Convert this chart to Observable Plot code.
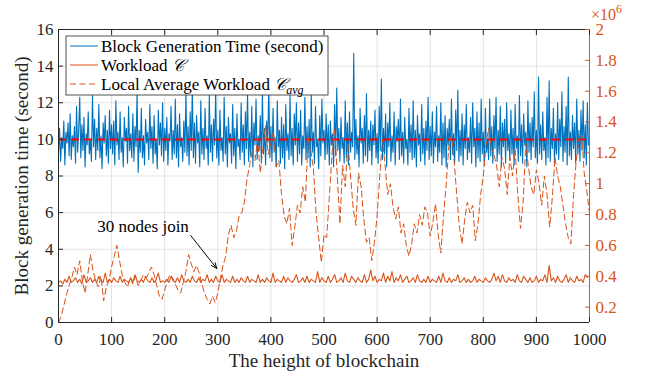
<!DOCTYPE html>
<html>
<head>
<meta charset="utf-8">
<script src="https://cdn.jsdelivr.net/npm/d3@7"></script>
<script src="https://cdn.jsdelivr.net/npm/@observablehq/plot@0.6"></script>
<style>
  html, body { margin: 0; padding: 0; background: #fff; }
</style>
</head>
<body>
<div id="chart"></div>
<script>
// ---- data ----
// block generation time (second), every 2nd block height
const blockTime = [
 9.2,10.6,8.8,10.1,9.5,11.0,8.6,10.4,9.8,10.9,9.1,11.4,8.9,10.2,9.6,10.7,8.7,11.8,9.3,10.5,12.3,9.0,10.8,9.4,11.2,
 8.5,10.3,9.7,11.5,9.2,10.0,8.8,12.4,9.6,11.1,8.9,10.6,9.4,11.9,9.0,10.2,8.4,10.9,9.8,11.3,9.1,10.5,8.7,11.6,9.5,
 10.8,9.2,11.0,8.6,12.1,9.7,10.4,8.9,11.5,9.3,10.1,8.5,11.2,9.9,10.6,8.7,11.8,9.4,10.3,9.0,11.4,8.8,10.7,9.6,12.6,
 8.2,10.5,9.3,11.7,9.0,10.2,8.6,11.1,9.8,10.4,8.9,11.9,9.5,10.7,8.7,11.3,9.2,10.0,8.4,11.6,9.7,10.9,9.1,12.0,8.8,
 10.6,9.4,11.2,8.6,10.3,9.9,11.8,8.9,10.5,9.2,12.2,9.0,10.8,8.5,11.4,9.6,10.1,8.8,11.0,9.3,12.5,9.1,10.7,8.6,11.5,
 9.4,12.8,9.0,10.9,8.7,11.3,9.8,10.4,8.5,12.1,9.2,10.6,8.9,11.7,9.5,10.2,8.6,12.4,9.3,10.8,8.8,11.1,9.7,12.7,9.0,
 10.5,8.6,11.6,9.4,10.1,8.8,12.3,9.2,10.7,8.5,11.2,9.8,10.3,8.7,11.9,9.1,10.6,8.4,11.4,9.6,10.0,8.9,12.0,9.3,10.8,
 8.6,11.5,9.5,12.6,8.8,10.4,9.1,11.8,8.5,10.9,9.7,12.2,8.9,10.2,9.4,11.3,8.7,12.5,9.2,10.6,8.6,11.0,9.8,12.9,9.0,
 10.7,8.8,11.7,9.3,10.1,8.5,12.1,9.6,10.5,8.7,11.2,9.0,10.8,8.4,11.9,9.4,10.3,8.9,12.4,9.1,10.6,8.6,11.4,9.7,12.0,
 8.8,10.9,9.2,11.6,8.6,10.2,9.5,12.3,8.9,10.7,9.0,11.1,8.5,12.5,9.3,10.4,8.7,11.8,9.6,10.0,8.4,11.3,9.1,12.2,9.8,
 10.5,8.9,11.4,9.2,10.8,8.6,11.0,9.7,10.3,8.5,11.9,9.1,12.8,9.4,10.6,8.8,11.2,9.5,10.1,8.7,12.1,9.0,10.9,8.6,11.5,
 9.3,10.4,9.6,14.7,8.9,11.1,9.2,10.2,8.5,11.7,9.8,10.6,8.7,11.3,9.1,12.5,8.8,10.5,9.4,11.0,8.6,10.8,9.7,11.6,9.0,
 10.3,8.7,11.8,9.4,13.3,8.9,10.6,9.2,11.4,8.5,10.9,9.6,12.0,8.8,10.2,9.3,11.5,8.6,10.7,9.9,11.1,8.9,12.2,9.1,10.4,
 8.7,11.2,9.5,10.0,8.6,11.7,9.3,10.8,8.9,12.1,9.0,10.5,8.5,11.3,9.7,10.3,8.8,11.9,9.2,10.6,8.6,11.0,9.4,12.3,8.9,
 10.7,9.1,11.5,8.7,10.4,9.6,11.8,8.8,10.2,9.3,12.0,8.6,10.9,9.0,11.3,8.5,10.6,9.7,11.1,8.9,12.2,9.2,10.3,8.7,11.6,
 9.4,12.7,8.8,10.5,9.1,11.4,8.6,10.8,9.5,11.9,8.9,10.1,9.3,11.2,8.7,12.0,9.6,10.6,8.5,11.5,9.0,10.9,8.8,12.2,9.2,
 10.4,8.6,11.7,9.3,10.0,8.9,12.2,9.1,10.7,8.7,11.3,9.5,12.3,8.8,10.5,9.2,11.8,8.5,10.9,9.6,11.1,8.7,12.0,9.4,10.3,
 8.9,11.6,9.2,10.6,8.6,11.9,9.5,10.2,8.8,12.4,9.1,10.8,8.7,11.4,9.7,10.4,8.5,12.1,9.3,10.9,8.9,11.2,9.6,12.6,9.0,
 10.5,8.7,13.4,9.2,10.8,8.9,11.5,9.4,10.1,8.6,12.3,9.0,13.2,8.8,10.6,9.5,11.7,8.7,10.3,9.2,12.0,8.9,11.1,9.6,12.6,
 8.8,10.7,9.3,11.8,8.6,13.4,9.1,10.4,8.9,11.3,9.5,10.9,8.7,12.2,9.2,10.5,8.8,11.6,9.4,12.1,9.0,10.8,8.6,12.0,9.7
];
// workload C (x10^6), every 4th block height
const workload = [
 0.36,0.37,0.35,0.38,0.36,0.40,0.36,0.37,0.39,0.36,0.38,0.35,0.41,0.36,0.37,0.39,0.36,0.38,0.36,0.40,0.37,0.36,0.42,0.36,0.38,
 0.36,0.39,0.37,0.36,0.40,0.36,0.38,0.37,0.36,0.39,0.36,0.41,0.37,0.36,0.38,0.36,0.40,0.37,0.36,0.39,0.36,0.38,0.42,0.36,0.37,
 0.36,0.38,0.36,0.40,0.37,0.36,0.39,0.36,0.41,0.37,0.36,0.38,0.36,0.40,0.37,0.36,0.39,0.36,0.38,0.37,0.41,0.36,0.38,0.36,0.40,
 0.37,0.36,0.41,0.36,0.38,0.37,0.36,0.40,0.36,0.38,0.36,0.39,0.37,0.36,0.40,0.36,0.38,0.37,0.36,0.41,0.36,0.38,0.36,0.39,0.37,
 0.36,0.42,0.36,0.38,0.37,0.36,0.40,0.36,0.39,0.37,0.36,0.38,0.41,0.36,0.37,0.39,0.36,0.40,0.36,0.38,0.37,0.36,0.43,0.36,0.39,
 0.37,0.36,0.40,0.36,0.38,0.41,0.36,0.37,0.39,0.36,0.42,0.37,0.36,0.40,0.38,0.36,0.39,0.37,0.36,0.41,0.36,0.38,0.44,0.37,0.40,
 0.36,0.38,0.37,0.42,0.36,0.40,0.37,0.43,0.36,0.39,0.37,0.41,0.36,0.38,0.40,0.36,0.37,0.39,0.36,0.41,0.37,0.36,0.38,0.36,0.40,
 0.36,0.38,0.37,0.36,0.40,0.36,0.42,0.37,0.36,0.39,0.36,0.38,0.37,0.41,0.36,0.37,0.39,0.36,0.38,0.36,0.37,0.40,0.36,0.38,0.37,
 0.36,0.39,0.37,0.36,0.38,0.42,0.37,0.40,0.36,0.41,0.37,0.36,0.39,0.37,0.38,0.36,0.41,0.37,0.36,0.40,0.38,0.36,0.39,0.36,0.37,
 0.40,0.36,0.38,0.37,0.41,0.36,0.47,0.37,0.39,0.36,0.40,0.37,0.36,0.38,0.41,0.36,0.39,0.37,0.36,0.40,0.37,0.38,0.36,0.41,0.39
];
// local average workload C_avg (x10^6), every 5th block height
const avgWorkload = [
 0.10,0.14,0.21,0.28,0.34,0.39,0.46,0.41,0.50,0.37,0.29,0.41,0.54,0.44,0.37,0.33,0.40,0.24,0.33,0.37,
 0.46,0.53,0.60,0.50,0.41,0.36,0.33,0.39,0.35,0.40,0.34,0.37,0.41,0.39,0.42,0.46,0.41,0.34,0.27,0.25,
 0.31,0.37,0.41,0.39,0.35,0.31,0.29,0.36,0.43,0.54,0.48,0.43,0.47,0.42,0.35,0.29,0.25,0.22,0.27,0.23,
 0.29,0.39,0.47,0.53,0.67,0.73,0.65,0.69,0.79,0.81,0.88,1.03,1.12,1.22,1.15,1.29,1.07,1.23,1.38,1.19,
 1.26,1.34,1.11,1.15,0.93,0.79,0.74,0.84,0.60,0.72,0.86,0.81,0.98,0.88,1.30,1.22,1.10,0.81,0.65,0.49,
 0.67,0.65,0.91,1.19,1.36,1.05,0.74,1.12,0.98,1.26,1.05,0.84,0.73,1.07,0.98,0.77,0.62,0.65,0.50,0.62,
 0.79,1.05,1.29,1.12,0.93,1.00,0.85,0.77,0.85,0.68,0.74,0.60,0.53,0.61,0.74,0.68,0.80,0.73,0.85,0.81,
 0.66,0.75,0.87,0.67,0.55,0.79,0.99,1.24,1.31,1.15,0.93,0.72,0.61,0.77,0.88,0.81,0.86,0.63,0.74,0.93,
 1.05,1.25,1.36,1.23,1.19,1.12,0.98,1.17,1.10,0.93,1.17,1.05,1.22,0.93,0.71,0.88,1.26,1.11,0.98,0.93,
 1.09,1.00,0.86,1.05,0.93,0.72,0.91,1.17,1.05,0.98,0.86,0.74,0.65,0.61,0.93,1.15,1.29,1.33,1.07,0.95,
 0.81
];
const targetTime = [10];
const xTicks = [0,100,200,300,400,500,600,700,800,900,1000];
const yTicks = [0,2,4,6,8,10,12,14,16];
const rightTicks = [0.2,0.4,0.6,0.8,1.0,1.2,1.4,1.6,1.8,2.0];
const rightDomain = [0.1, 2.0];
const annotation = [{x1: 249, y1: 4.75, x2: 298, y2: 2.95, tx: 73, ty: 5.25, text: "30 nodes join"}];
const legendItems = [
  {label: "Block Generation Time (second)", color: "#0072BD", dash: null},
  {label: "Workload ", math: "𝒞", color: "#D95319", dash: null},
  {label: "Local Average Workload ", math: "𝒞", sub: "avg", color: "#D95319", dash: "6,3.5"}
];

const blue = "#0072BD", orange = "#D95319", axisCol = "#262626", gridCol = "#e3e3e3";
const serif = "'Liberation Serif', 'Times New Roman', serif";
const toLeft = d3.scaleLinear().domain(rightDomain).range([0, 16]);
const fmtRight = v => String(+v.toFixed(1));

const svg = Plot.plot({
  width: 645, height: 376,
  marginLeft: 58, marginRight: 56, marginTop: 29, marginBottom: 54,
  style: {fontFamily: serif, fontSize: "17px", background: "#fff", color: "#262626"},
  x: {domain: [0, 1000]},
  y: {domain: [0, 16]},
  marks: [
    Plot.gridX(xTicks, {stroke: gridCol, strokeOpacity: 1}),
    Plot.gridY(yTicks, {stroke: gridCol, strokeOpacity: 1}),
    Plot.lineY(blockTime, {x: (d, i) => i * 2, y: d => d, stroke: blue, strokeWidth: 1.1}),
    Plot.ruleY(targetTime, {stroke: "#FF0000", strokeWidth: 2, strokeDasharray: "8,5"}),
    Plot.lineY(workload, {x: (d, i) => i * 4, y: d => toLeft(d), stroke: orange, strokeWidth: 1.1}),
    Plot.lineY(avgWorkload, {x: (d, i) => i * 5, y: d => toLeft(d), stroke: orange, strokeWidth: 1, strokeDasharray: "6,3.5"}),
    Plot.ruleY([0, 16], {stroke: axisCol, strokeWidth: 1}),
    Plot.ruleX([0], {stroke: axisCol, strokeWidth: 1}),
    Plot.ruleX([1000], {stroke: orange, strokeWidth: 1}),
    Plot.axisX(xTicks, {anchor: "bottom", tickSize: -5, tickPadding: 15, tickFormat: d => String(d), label: "The height of blockchain", labelAnchor: "center", labelArrow: "none", labelOffset: 44}),
    Plot.axisX(xTicks, {anchor: "top", tickSize: -5, tickFormat: () => "", label: null}),
    Plot.axisY(yTicks, {anchor: "left", tickSize: -5, tickPadding: 10, label: "Block generation time (second)", labelAnchor: "center", labelArrow: "none", labelOffset: 44}),
    Plot.axisY(rightTicks.map(v => toLeft(v)), {anchor: "right", tickSize: -5, tickPadding: 11, color: orange, tickFormat: d => fmtRight(toLeft.invert(d)), label: null}),
    Plot.arrow(annotation, {x1: "x1", y1: "y1", x2: "x2", y2: "y2", stroke: "#000", strokeWidth: 1, headLength: 9, headAngle: 45}),
    Plot.text(annotation, {x: "tx", y: "ty", text: "text", textAnchor: "start", fill: "#000", fontSize: 17})
  ]
});

const root = d3.select(svg);
root.selectAll('g[aria-label="x-axis label"] text, g[aria-label="y-axis label"] text').attr("font-size", 19);

// legend inside the axes
const lg = root.append("g").attr("font-family", serif).attr("font-size", 17).attr("text-anchor", "start");
lg.append("rect").attr("x", 66).attr("y", 36).attr("width", 262).attr("height", 59)
  .attr("fill", "#fff").attr("stroke", axisCol).attr("stroke-width", 0.8);
legendItems.forEach((it, i) => {
  const cy = 46 + i * 19;
  lg.append("line").attr("x1", 70).attr("x2", 98).attr("y1", cy).attr("y2", cy)
    .attr("stroke", it.color).attr("stroke-width", 1).attr("stroke-dasharray", it.dash);
  const t = lg.append("text").attr("x", 101).attr("y", cy + 6).attr("fill", "#000");
  t.append("tspan").text(it.label);
  if (it.math) t.append("tspan").attr("font-style", "italic").text(it.math);
  if (it.sub) t.append("tspan").attr("font-style", "italic").attr("font-size", 12).attr("dy", 4).text(it.sub);
});

// exponent label of the right axis
const ex = root.append("text").attr("x", 591).attr("y", 20).attr("fill", orange).attr("text-anchor", "start")
  .attr("font-family", serif).attr("font-size", 16);
ex.append("tspan").text("×10");
ex.append("tspan").attr("font-size", 12).attr("dy", -7).text("6");

document.getElementById("chart").appendChild(svg);
</script>
</body>
</html>
